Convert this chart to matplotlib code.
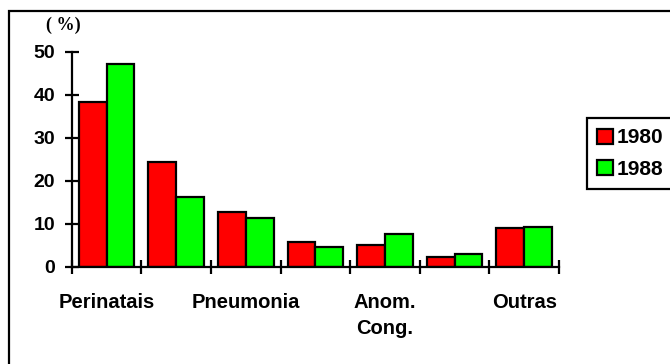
import matplotlib.pyplot as plt
from matplotlib.patches import Rectangle

# cause-of-death shares (%), only every other category is labelled on the axis
categories = ["Perinatais", "", "Pneumonia", "", "Anom.\nCong.", "", "Outras"]
years = ["1980", "1988"]
vals_1980 = [38.4, 24.3, 12.8, 5.8, 5.1, 2.3, 9.0]
vals_1988 = [47.1, 16.3, 11.4, 4.5, 7.5, 3.0, 9.3]
yticks = [0, 10, 20, 30, 40, 50]

plt.rcParams['font.family'] = ['Liberation Sans', 'DejaVu Sans']
plt.rcParams['font.weight'] = 'bold'

fig = plt.figure(figsize=(6.7, 3.64), dpi=100)
ax = fig.add_axes([71.7 / 670, 1 - 266.7 / 364, (559 - 71.7) / 670, (266.7 - 51.7) / 364])

x = list(range(len(categories)))
w = 0.4
ax.bar([i - w / 2 for i in x], vals_1980, w, color='#ff0000', edgecolor='black', lw=1.6, label=years[0])
ax.bar([i + w / 2 for i in x], vals_1988, w, color='#00ff00', edgecolor='black', lw=1.6, label=years[1])

ax.set_xlim(-0.5, len(categories) - 0.5)
ax.set_ylim(0, 50)
for s in ['top', 'right']:
    ax.spines[s].set_visible(False)
for s in ['left', 'bottom']:
    ax.spines[s].set_linewidth(1.6)

# tick marks on category boundaries, labels at category centres
ax.set_xticks([i - 0.5 for i in range(len(categories) + 1)])
ax.set_xticklabels([])
ax.set_xticks(x, minor=True)
ax.set_xticklabels(categories, minor=True, fontsize=14.5, fontweight='bold', linespacing=1.45)
ax.tick_params(axis='x', which='major', direction='inout', length=10, width=1.6)
ax.tick_params(axis='x', which='minor', length=0, pad=19)

ax.set_yticks(yticks)
ax.set_yticklabels([str(v) for v in yticks], fontsize=14, fontweight='bold')
ax.tick_params(axis='y', direction='inout', length=10, width=1.6, pad=7)

fig.text(46 / 670, 1 - 25 / 364, "( %)", family='Liberation Serif', fontweight='bold',
         fontsize=13, va='center', ha='left')

leg = fig.legend(loc='upper left', bbox_to_anchor=(587 / 670, 1 - 118 / 364),
                 borderaxespad=0, fancybox=False, edgecolor='black', framealpha=1,
                 handlelength=0.75, handleheight=0.75, handletextpad=0.15,
                 labelspacing=0.6, borderpad=0.5, prop={'size': 15, 'weight': 'bold'})
leg.get_frame().set_linewidth(1.6)

# outer frame around the whole chart
fig.patches.append(Rectangle((9 / 670, -0.1), 1.2, 1.1 - 11 / 364, transform=fig.transFigure,
                             fill=False, edgecolor='black', lw=1.6))

fig.savefig('out.png', dpi=100)
